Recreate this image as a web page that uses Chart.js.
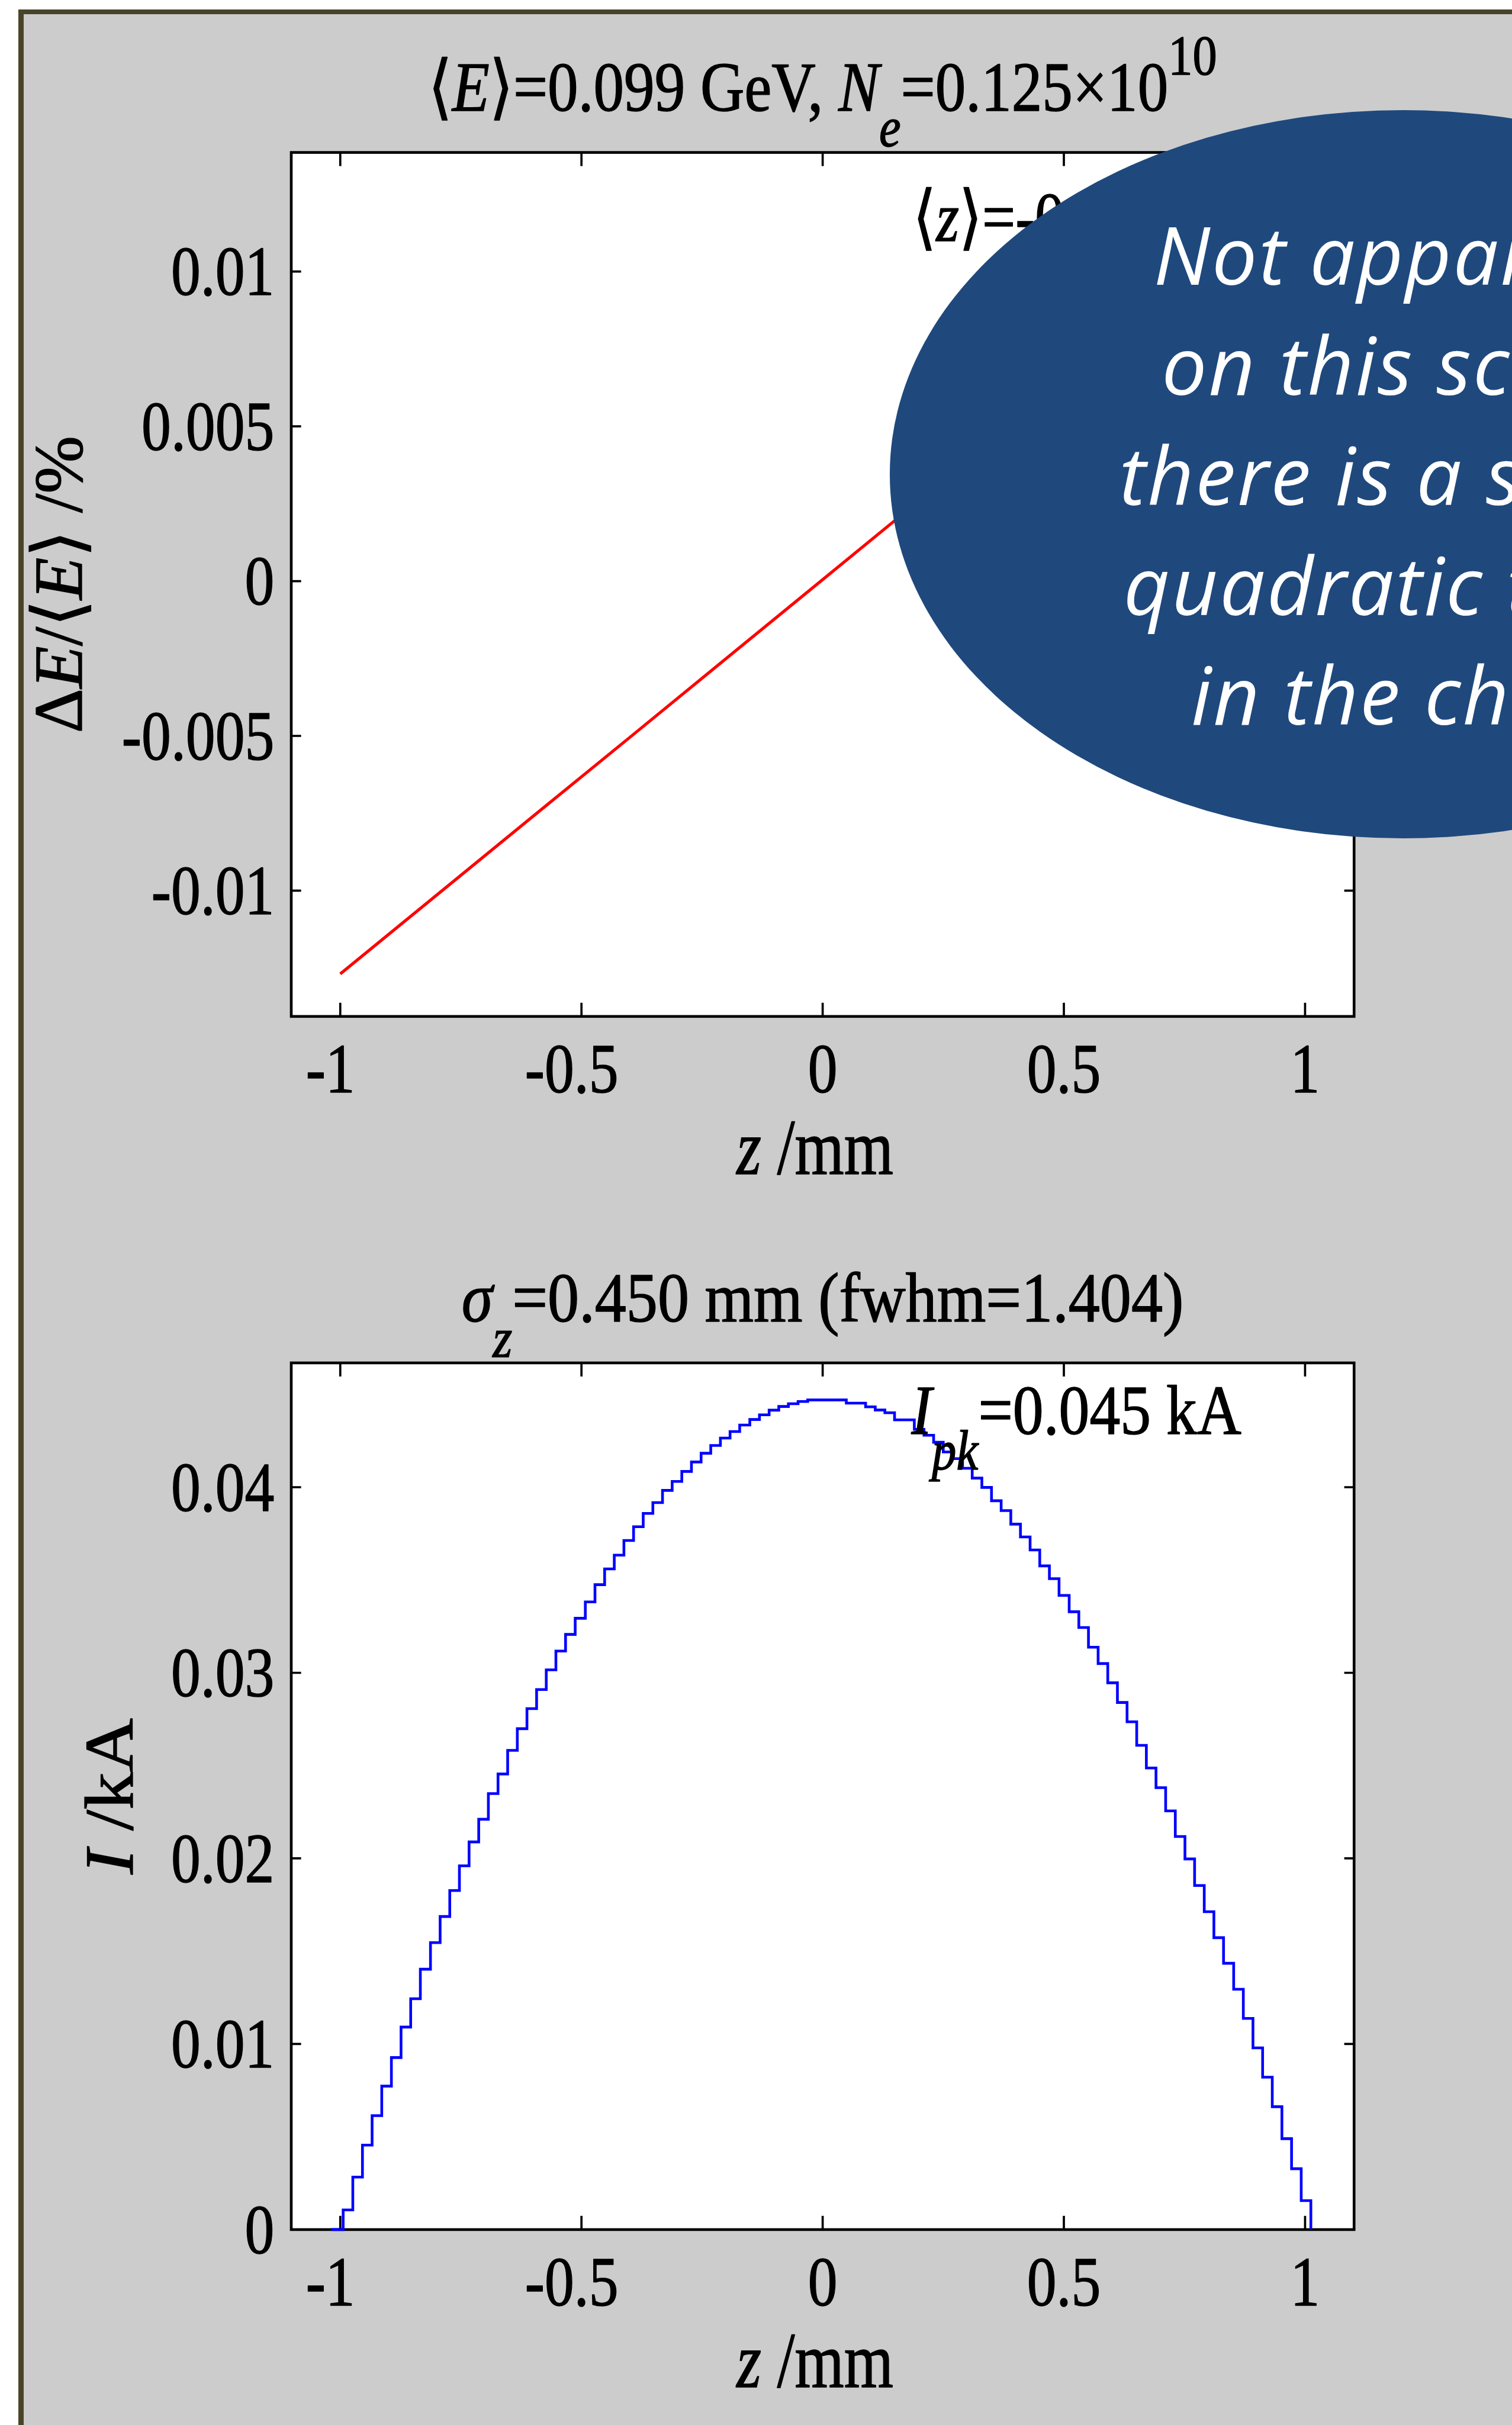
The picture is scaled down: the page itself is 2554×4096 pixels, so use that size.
<!DOCTYPE html>
<html>
<head>
<meta charset="utf-8">
<title>Energy chirp and current profile</title>
<script src="https://cdn.jsdelivr.net/npm/chart.js@4.4.1/dist/chart.umd.min.js"></script>
<style>
  html, body { margin: 0; padding: 0; background: #fff; }
  body { position: relative; width: 2554px; height: 4096px; overflow: hidden; }
  #frame { position: absolute; background: #ccc; border-style: solid; border-color: #494429; border-right-width: 0; border-bottom-width: 0; }
  canvas { position: absolute; left: 0; }
  #callout { position: absolute; background: #1f497d; border-radius: 50%; }
  #calloutText { position: absolute; color: #fff; font-family: "Open Sans", sans-serif; font-style: italic; text-align: center; white-space: nowrap; }
</style>
</head>
<body>
<div id="frame"></div>
<canvas id="chirpChart"></canvas>
<canvas id="currentChart"></canvas>
<div id="callout"></div>
<div id="calloutText">
  <div>Not apparent</div>
  <div>on this scale,</div>
  <div>there is a slight</div>
  <div>quadratic term</div>
  <div>in the chirp</div>
</div>
<script>
/* ---------- data ---------- */
// energy chirp along the bunch (z in mm, dE/<E> in %)
const zChirp  = [-1, -0.8, -0.6, -0.4, -0.2, 0, 0.2, 0.4, 0.6, 0.8, 1];
const dEChirp = [-0.01269, -0.01014, -0.00759, -0.00505, -0.00250, 0.00005,
                  0.00260, 0.00515, 0.00769, 0.01024, 0.01279];

// current histogram: bin edges (mm) and current per bin (kA)
const zEdges = [
  -0.994, -0.974, -0.954, -0.934, -0.914, -0.894, -0.874, -0.854, -0.834, -0.813,
  -0.793, -0.773, -0.753, -0.733, -0.713, -0.693, -0.673, -0.653, -0.633, -0.613,
  -0.593, -0.573, -0.553, -0.533, -0.513, -0.492, -0.472, -0.452, -0.432, -0.412,
  -0.392, -0.372, -0.352, -0.332, -0.312, -0.292, -0.272, -0.252, -0.232, -0.212,
  -0.192, -0.172, -0.151, -0.131, -0.111, -0.091, -0.071, -0.051, -0.031, -0.011,
   0.009,  0.029,  0.049,  0.069,  0.089,  0.109,  0.129,  0.149,  0.169,  0.190,
   0.210,  0.230,  0.250,  0.270,  0.290,  0.310,  0.330,  0.350,  0.370,  0.390,
   0.410,  0.430,  0.450,  0.470,  0.490,  0.511,  0.531,  0.551,  0.571,  0.591,
   0.611,  0.631,  0.651,  0.671,  0.691,  0.711,  0.731,  0.751,  0.771,  0.791,
   0.811,  0.831,  0.852,  0.872,  0.892,  0.912,  0.932,  0.952,  0.972,  0.992,
   1.012
];
const currentKA = [
  0.00106, 0.00283, 0.00455, 0.00614, 0.00773, 0.00927, 0.01091, 0.01244, 0.01403, 0.01546,
  0.01687, 0.01827, 0.01960, 0.02089, 0.02211, 0.02349, 0.02455, 0.02582, 0.02699, 0.02807,
  0.02910, 0.03016, 0.03117, 0.03207, 0.03294, 0.03382, 0.03475, 0.03560, 0.03634, 0.03713,
  0.03787, 0.03859, 0.03917, 0.03983, 0.04031, 0.04085, 0.04136, 0.04183, 0.04225, 0.04265,
  0.04300, 0.04335, 0.04365, 0.04390, 0.04415, 0.04435, 0.04450, 0.04462, 0.04470, 0.04470,
  0.04470, 0.04470, 0.04453, 0.04453, 0.04433, 0.04416, 0.04401, 0.04363, 0.04363, 0.04312,
  0.04280, 0.04242, 0.04190, 0.04154, 0.04102, 0.04049, 0.03999, 0.03927, 0.03874, 0.03801,
  0.03732, 0.03662, 0.03576, 0.03507, 0.03417, 0.03329, 0.03244, 0.03138, 0.03050, 0.02946,
  0.02840, 0.02736, 0.02609, 0.02487, 0.02381, 0.02256, 0.02118, 0.01997, 0.01854, 0.01713,
  0.01573, 0.01435, 0.01295, 0.01138, 0.00979, 0.00821, 0.00662, 0.00490, 0.00328, 0.00156
];
const zLead = -1.019;   // histogram outline starts on the baseline here

// ticks
const zTicks = [-1, -0.5, 0, 0.5, 1];
const zTickLabels = ['-1', '-0.5', '0', '0.5', '1'];
const dETicks = [-0.01, -0.005, 0, 0.005, 0.01];
const dETickLabels = ['-0.01', '-0.005', '0', '0.005', '0.01'];
const iTicks = [0, 0.01, 0.02, 0.03, 0.04];
const iTickLabels = ['0', '0.01', '0.02', '0.03', '0.04'];

// axis ranges
const zRange = [-1.1016, 1.1016];
const dERange = [-0.014062, 0.013847];
const iRange = [0, 0.046699];

/* ---------- page geometry (drawn at K of full size) ---------- */
const K = 2554 / 2767;
const TOP_H = 2077, BOT_H = 4096 - 2077;

const frame = document.getElementById('frame');
Object.assign(frame.style, {
  left: 34 * K + 'px', top: 17 * K + 'px',
  width: '2600px', height: '4200px',
  borderLeftWidth: 10 * K + 'px', borderTopWidth: 9 * K + 'px'
});

const callout = document.getElementById('callout');
Object.assign(callout.style, {
  left: 1628 * K + 'px', top: 202 * K + 'px',
  width: 1878 * K + 'px', height: 1332 * K + 'px'
});
const calloutText = document.getElementById('calloutText');
Object.assign(calloutText.style, {
  left: (2567 - 1300) * K + 'px', width: 2600 * K + 'px',
  top: 364.4 * K + 'px',
  fontSize: 147 * K + 'px', lineHeight: 201.25 * K + 'px',
  letterSpacing: 3.2 * K + 'px'
});

/* ---------- text helpers ---------- */
const SERIF = '"Liberation Serif", "DejaVu Serif", serif';
function fontFor(seg, size) {
  return (seg.it ? 'italic ' : '') + size + 'px ' + SERIF;
}

// draws a run of segments (italic / sub / sup) with a vertical stretch
function richText(ctx, segs, x, y, opt) {
  const sy = opt.sy || 1, sx = opt.sx || 1;
  const small = opt.size * 0.8;
  let w = 0;
  const laid = segs.map(s => {
    const size = (s.sub || s.sup) ? small : opt.size;
    ctx.font = fontFor(s, size);
    const item = { s, size, x: w, dy: s.sub ? 65 : (s.sup ? -66 : 0) };
    w += ctx.measureText(s.t).width * sx;
    return item;
  });
  const x0 = opt.align === 'center' ? x - w / 2 : (opt.align === 'right' ? x - w : x);
  laid.forEach(it => {
    ctx.save();
    ctx.translate(x0 + it.x, y + it.dy);
    ctx.scale(sx, sy);
    ctx.font = fontFor(it.s, it.size);
    ctx.textAlign = 'left';
    ctx.textBaseline = 'alphabetic';
    ctx.lineWidth = 1.4;
    ctx.lineJoin = 'round';
    ctx.strokeText(it.s.t, 0, 0);
    ctx.fillText(it.s.t, 0, 0);
    ctx.restore();
  });
  return w;
}

/* ---------- frame, ticks and labels ---------- */
function framePlugin(cfg) {
  return {
    id: 'frameAndText',
    beforeDatasetsDraw(chart) {
      const { ctx, chartArea: a, scales: { x, y } } = chart;
      ctx.save();
      ctx.fillStyle = '#fff';
      ctx.fillRect(a.left, a.top, a.right - a.left, a.bottom - a.top);
      ctx.strokeStyle = '#000';
      ctx.lineWidth = 5 * K;
      ctx.strokeRect(a.left, a.top, a.right - a.left, a.bottom - a.top);
      ctx.lineWidth = 4 * K;
      ctx.beginPath();
      cfg.xTicks.forEach(v => {
        const p = x.getPixelForValue(v);
        ctx.moveTo(p, a.bottom); ctx.lineTo(p, a.bottom - 25 * K);
        ctx.moveTo(p, a.top);    ctx.lineTo(p, a.top + 25 * K);
      });
      cfg.yTicks.forEach(v => {
        const p = y.getPixelForValue(v);
        ctx.moveTo(a.left, p);  ctx.lineTo(a.left + 18 * K, p);
        ctx.moveTo(a.right, p); ctx.lineTo(a.right - 18 * K, p);
      });
      ctx.stroke();
      ctx.restore();
    },
    afterDraw(chart) {
      const { ctx, chartArea: a, scales: { x, y } } = chart;
      const L = a.left / K, R = a.right / K, T = a.top / K, B = a.bottom / K;
      const mid = (L + R) / 2;
      const tick = { size: 108, sy: 1.2 };
      ctx.save();
      ctx.scale(K, K);
      ctx.fillStyle = '#000';
      ctx.strokeStyle = '#000';

      cfg.yTicks.forEach((v, i) => {
        const p = y.getPixelForValue(v) / K;
        richText(ctx, [{ t: cfg.yLabels[i] }], L - 31, p + 43, { ...tick, align: 'right' });
      });

      // x labels: number centred on the tick, minus sign hanging to the left
      cfg.xTicks.forEach((v, i) => {
        const p = x.getPixelForValue(v) / K;
        const lab = cfg.xLabels[i];
        const neg = lab.charAt(0) === '-';
        const body = neg ? lab.slice(1) : lab;
        const w = richText(ctx, [{ t: body }], p, B + 139, { ...tick, align: 'center' });
        if (neg) richText(ctx, [{ t: '-' }], p - w / 2, B + 139, { ...tick, align: 'right' });
      });

      richText(ctx, cfg.title, mid, T - 76, { ...tick, sx: cfg.titleSx, align: 'center' });
      richText(ctx, [{ t: 'z', it: 1 }, { t: ' /mm' }], mid - 14, B + 288,
               { size: 116, sy: 1.25, align: 'center' });

      ctx.save();
      ctx.translate(cfg.yTitleX, (T + B) / 2);
      ctx.rotate(-Math.PI / 2);
      richText(ctx, cfg.yTitle, 0, 0, { size: 127, sx: cfg.yTitleSx, align: 'center' });
      ctx.restore();

      richText(ctx, cfg.note, L + cfg.noteDx, T + cfg.noteDy, { ...tick, sx: cfg.noteSx, align: 'left' });
      ctx.restore();
    }
  };
}

function makeChart(canvas, top, height, datasets, yRange, cfg) {
  canvas.width = 2554;
  canvas.height = height;
  canvas.style.top = top + 'px';
  canvas.style.width = '2554px';
  canvas.style.height = height + 'px';
  return new Chart(canvas, {
    type: 'line',
    data: { datasets },
    options: {
      responsive: false,
      animation: false,
      devicePixelRatio: 1,
      layout: { padding: cfg.padding },
      plugins: { legend: { display: false }, tooltip: { enabled: false } },
      scales: {
        x: { type: 'linear', min: zRange[0], max: zRange[1], display: false },
        y: { type: 'linear', min: yRange[0], max: yRange[1], display: false }
      }
    },
    plugins: [framePlugin(cfg)]
  });
}

/* ---------- upper panel: energy chirp ---------- */
const chirpPoints = zChirp.map((z, i) => ({ x: z, y: dEChirp[i] }));

makeChart(document.getElementById('chirpChart'), 0, TOP_H, [{
  data: chirpPoints,
  borderColor: '#ff0000',
  borderWidth: 5.5 * K,
  pointRadius: 0,
  fill: false,
  clip: 8
}], dERange, {
  padding: { left: 533 * K, top: 279 * K, right: 2554 - 2478 * K, bottom: TOP_H - 1860 * K },
  xTicks: zTicks, xLabels: zTickLabels,
  yTicks: dETicks, yLabels: dETickLabels,
  title: [{ t: '⟨' }, { t: 'E', it: 1 }, { t: '⟩=0.099 GeV, ' }, { t: 'N', it: 1 },
          { t: 'e', it: 1, sub: 1 }, { t: '=0.125×10' }, { t: '10', sup: 1 }],
  titleSx: 1.035,
  yTitle: [{ t: 'Δ' }, { t: 'E', it: 1 }, { t: '/⟨' }, { t: 'E', it: 1 }, { t: '⟩ /%' }],
  yTitleX: 149, yTitleSx: 1,
  note: [{ t: '⟨' }, { t: 'z', it: 1 }, { t: '⟩=-0.000 mm' }],
  noteDx: 1138, noteDy: 162, noteSx: 1
});

/* ---------- lower panel: current profile ---------- */
const currentPoints = [{ x: zLead, y: 0 }];
currentKA.forEach((v, i) => currentPoints.push({ x: zEdges[i], y: v }));
currentPoints.push({ x: zEdges[zEdges.length - 1], y: 0 });
const peakKA = Math.max(...currentKA);

const offY = TOP_H / K;   // full-size page offset of the lower canvas
makeChart(document.getElementById('currentChart'), TOP_H, BOT_H, [{
  data: currentPoints,
  borderColor: '#0000ff',
  borderWidth: 5 * K,
  borderJoinStyle: 'miter',
  stepped: true,
  pointRadius: 0,
  fill: false,
  clip: 8
}], iRange, {
  padding: { left: 533 * K, top: (2494 - offY) * K, right: 2554 - 2478 * K, bottom: BOT_H - (4080 - offY) * K },
  xTicks: zTicks, xLabels: zTickLabels,
  yTicks: iTicks, yLabels: iTickLabels,
  title: [{ t: 'σ', it: 1 }, { t: 'z', it: 1, sub: 1 }, { t: '=0.450 mm (fwhm=1.404)' }],
  titleSx: 1.065,
  yTitle: [{ t: 'I', it: 1 }, { t: ' /kA' }],
  yTitleX: 243, yTitleSx: 1.08,
  note: [{ t: 'I', it: 1 }, { t: 'pk', it: 1, sub: 1 }, { t: '=' + peakKA.toFixed(3) + ' kA' }],
  noteDx: 1135, noteDy: 130, noteSx: 1.04
});
</script>
</body>
</html>
